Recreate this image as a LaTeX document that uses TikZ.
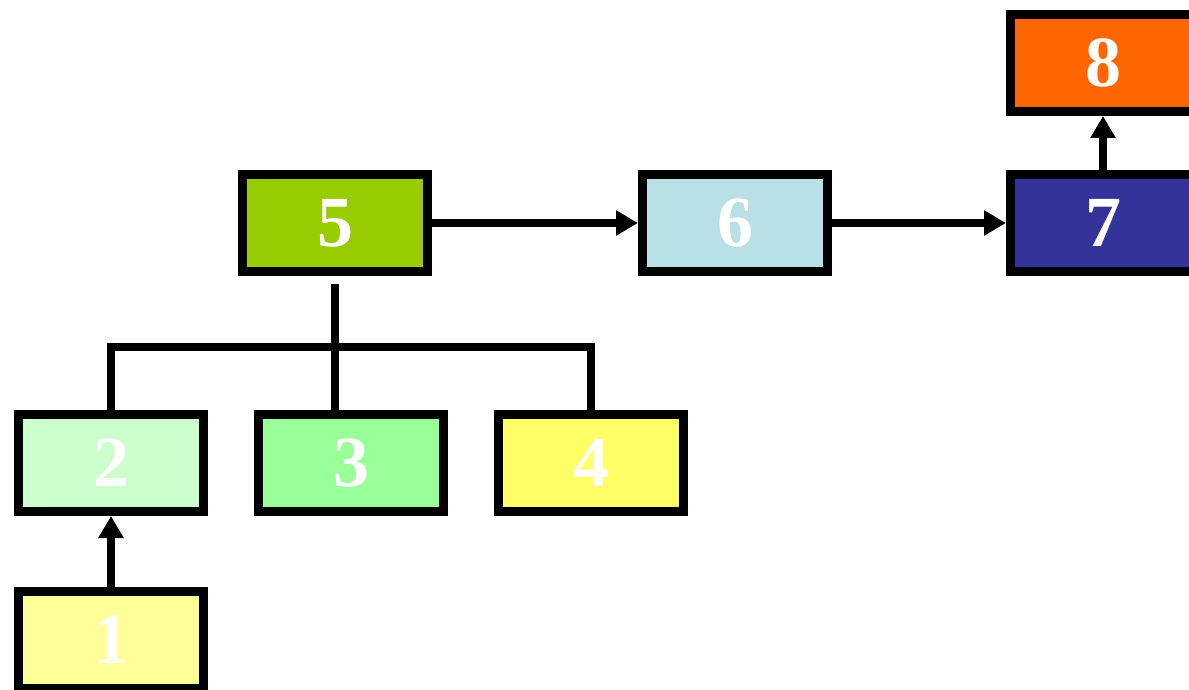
\documentclass[tikz,border=0pt]{standalone}
\usepackage{fontspec}
\setmainfont{Liberation Serif}
\usetikzlibrary{arrows.meta}

\begin{document}
\begin{tikzpicture}[x=1pt, y=-1pt,
  box/.style={draw=black, line width=9pt, minimum width=185pt, minimum height=97pt,
    inner sep=0pt, text=white, font=\fontsize{72}{72}\bfseries\selectfont},
  link/.style={line width=8pt},
  arr/.style={line width=8pt, -{Triangle[length=22pt, width=24pt]}}]
  \useasboundingbox (0,0) rectangle (1189,690);
  \clip (0,0) rectangle (1189,690);

  \node[box, fill={rgb,255:red,255;green,255;blue,153}] (n1) at (111,640) {1};
  \node[box, fill={rgb,255:red,204;green,255;blue,204}] (n2) at (111,463) {2};
  \node[box, fill={rgb,255:red,153;green,255;blue,153}] (n3) at (351,463) {3};
  \node[box, fill={rgb,255:red,255;green,255;blue,102}] (n4) at (591,463) {4};
  \node[box, fill={rgb,255:red,153;green,204;blue,0}] (n5) at (335,223) {5};
  \node[box, fill={rgb,255:red,185;green,224;blue,228}] (n6) at (735,223) {6};
  \node[box, fill={rgb,255:red,51;green,51;blue,153}] (n7) at (1103,223) {7};
  \node[box, fill={rgb,255:red,255;green,102;blue,0}] (n8) at (1103,63) {8};

  \coordinate (fork) at (335,347);
  \draw[link, shorten <=8pt] (n5.south) -- (fork);
  \draw[link] (n2.north) |- (fork) -| (n4.north);
  \draw[link] (fork) -- (n3.north -| fork);

  \draw[arr] (n1) -- (n2);
  \draw[arr] (n5) -- (n6);
  \draw[arr] (n6) -- (n7);
  \draw[arr] (n7) -- (n8);
\end{tikzpicture}
\end{document}
